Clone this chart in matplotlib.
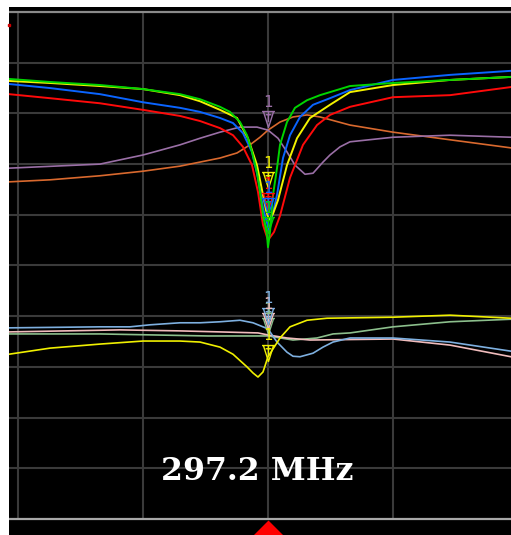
import matplotlib.pyplot as plt
import numpy as np
from matplotlib.path import Path

# x in screen divisions from the centre frequency, y in divisions below the reference line
center_label = "297.2 MHz"

# upper group (reflection traces)
green_x = [-2.072, -1.744, -1.344, -1.0, -0.704, -0.544, -0.384, -0.304, -0.224, -0.168, -0.128,
           -0.088, -0.064, -0.04, -0.008, 0.0, 0.016, 0.04, 0.072, 0.096, 0.152, 0.216, 0.312,
           0.416, 0.496, 0.656, 1.0, 1.456, 1.944]
green_y = [-1.32, -1.38, -1.44, -1.52, -1.62, -1.72, -1.87, -1.97, -2.17, -2.43, -2.76,
           -3.16, -3.55, -4.00, -4.40, -4.64, -4.34, -3.61, -3.08, -2.62, -2.17, -1.89, -1.74,
           -1.64, -1.58, -1.46, -1.40, -1.34, -1.28]

yellow_x = [-2.072, -1.744, -1.344, -1.0, -0.704, -0.544, -0.384, -0.248, -0.16, -0.088, -0.048,
            -0.016, 0.008, 0.04, 0.08, 0.152, 0.232, 0.336, 0.496, 0.656, 1.0, 1.456, 1.944]
yellow_y = [-1.36, -1.40, -1.46, -1.52, -1.64, -1.76, -1.93, -2.09, -2.49, -3.02, -3.51,
            -3.91, -4.10, -3.98, -3.71, -3.02, -2.49, -2.09, -1.83, -1.58, -1.44, -1.34, -1.28]

blue_x = [-2.072, -1.744, -1.344, -1.0, -0.704, -0.544, -0.384, -0.28, -0.2, -0.128, -0.08, -0.04,
          0.008, 0.072, 0.12, 0.176, 0.256, 0.36, 0.496, 0.656, 1.0, 1.456, 1.944]
blue_y = [-1.42, -1.50, -1.62, -1.78, -1.89, -1.97, -2.09, -2.19, -2.39, -2.76, -3.27, -3.87,
          -4.30, -3.61, -2.88, -2.43, -2.07, -1.83, -1.70, -1.54, -1.34, -1.24, -1.16]

red_x = [-2.072, -1.744, -1.344, -1.0, -0.704, -0.544, -0.384, -0.28, -0.2, -0.128, -0.08, -0.04,
         0.0, 0.048, 0.096, 0.176, 0.28, 0.392, 0.496, 0.656, 1.0, 1.456, 1.944]
red_y = [-1.62, -1.70, -1.80, -1.93, -2.05, -2.15, -2.29, -2.43, -2.66, -3.02, -3.55, -4.20,
         -4.50, -4.34, -4.02, -3.27, -2.62, -2.23, -2.03, -1.87, -1.68, -1.64, -1.48]

purple_x = [-2.072, -1.344, -1.0, -0.704, -0.544, -0.384, -0.224, -0.088, 0.0, 0.08, 0.152,
            0.216, 0.296, 0.36, 0.44, 0.496, 0.576, 0.656, 1.0, 1.456, 1.944]
purple_y = [-3.08, -3.00, -2.82, -2.62, -2.49, -2.37, -2.27, -2.27, -2.33, -2.49, -2.76,
            -3.02, -3.20, -3.18, -2.96, -2.82, -2.66, -2.56, -2.47, -2.43, -2.47]

orange_x = [-2.072, -1.744, -1.344, -1.0, -0.704, -0.544, -0.384, -0.248, -0.144, -0.064, 0.0,
            0.096, 0.2, 0.312, 0.416, 0.656, 1.0, 1.456, 1.944]
orange_y = [-3.35, -3.31, -3.23, -3.14, -3.04, -2.96, -2.88, -2.78, -2.62, -2.47, -2.33,
            -2.17, -2.07, -2.03, -2.07, -2.23, -2.37, -2.52, -2.68]

# lower group (transmission traces)
ltblue_x = [-2.072, -1.344, -1.104, -0.944, -0.704, -0.544, -0.384, -0.224, -0.12, 0.0, 0.072,
            0.152, 0.2, 0.256, 0.36, 0.44, 0.52, 0.656, 1.0, 1.456, 1.944]
ltblue_y = [-6.23, -6.21, -6.21, -6.17, -6.13, -6.13, -6.11, -6.08, -6.13, -6.25, -6.51,
            -6.71, -6.79, -6.80, -6.73, -6.61, -6.51, -6.43, -6.43, -6.51, -6.69]

pink_x = [-2.072, -1.184, -0.704, -0.384, -0.08, 0.0, 0.152, 0.336, 1.0, 1.456, 1.944]
pink_y = [-6.31, -6.27, -6.29, -6.31, -6.33, -6.37, -6.43, -6.47, -6.45, -6.57, -6.80]

ltgreen_x = [-2.072, -1.344, -0.48, -0.08, 0.0, 0.2, 0.392, 0.52, 0.656, 1.0, 1.456, 1.944]
ltgreen_y = [-6.35, -6.35, -6.39, -6.39, -6.39, -6.47, -6.43, -6.35, -6.33, -6.21, -6.11, -6.06]

yellow2_x = [-2.072, -1.744, -1.344, -1.0, -0.704, -0.544, -0.384, -0.28, -0.168, -0.12, -0.08,
             -0.04, 0.0, 0.096, 0.176, 0.312, 0.472, 1.0, 1.456, 1.944]
yellow2_y = [-6.75, -6.63, -6.55, -6.49, -6.49, -6.51, -6.61, -6.75, -7.00, -7.12, -7.20,
             -7.10, -6.80, -6.43, -6.21, -6.08, -6.04, -6.02, -5.98, -6.04]

# marker 1 readouts (all at the centre frequency)
marker_x = 0.0
marker_y = {'purple': -2.27, 'red': -3.89, 'blue': -3.98, 'green': -4.36, 'yellow': -3.47,
            'ltgreen': -6.35, 'pink': -6.25, 'ltblue': -6.15, 'yellow2': -6.88}

colors = {'green': '#00d400', 'yellow': '#f2f200', 'blue': '#0a64ff', 'red': '#ff0a0a',
          'purple': '#9a6fa6', 'orange': '#d9692e', 'ltblue': '#7eb0e0', 'pink': '#f0bcbc',
          'ltgreen': '#8cbf8c', 'yellow2': '#f0f000'}

fig = plt.figure(figsize=(5.11, 5.35), dpi=100, facecolor='white')
ax = fig.add_axes([9 / 511, 0, 502 / 511, 528 / 535])
ax.set_facecolor('black')
ax.set_xlim(-2.072, 1.944)
ax.set_ylim(-10.316, 0.099)
for s in ax.spines.values():
    s.set_visible(False)
ax.set_xticks([])
ax.set_yticks([])

# graticule
for gy in range(-9, 0):
    ax.axhline(gy, color='#3a3a3a', lw=1.5, zorder=0)
ax.vlines([-2, -1, 0, 1], -10, 0, color='#3a3a3a', lw=1.5, zorder=0)
ax.axhline(0, color='#8a8a8a', lw=1.6, zorder=1)
ax.axhline(-10, color='#a8a8a8', lw=1.6, zorder=1)

# reference level tick on the left edge
ax.plot([-2.072], [-0.26], marker='s', ms=2, color='#d00000', clip_on=False)

traces = [
    ('ltgreen', ltgreen_x, ltgreen_y, 1.2),
    ('pink', pink_x, pink_y, 1.2),
    ('ltblue', ltblue_x, ltblue_y, 1.2),
    ('yellow2', yellow2_x, yellow2_y, 1.2),
    ('orange', orange_x, orange_y, 1.2),
    ('purple', purple_x, purple_y, 1.2),
    ('red', red_x, red_y, 1.4),
    ('blue', blue_x, blue_y, 1.4),
    ('yellow', yellow_x, yellow_y, 1.4),
    ('green', green_x, green_y, 1.4),
]
for name, xs, ys, lw in traces:
    ax.plot(xs, ys, color=colors[name], lw=lw, solid_joinstyle='round')

# marker symbol: bar on top, hollow triangle pointing at the trace
verts = [(-0.4, 1.0), (0.4, 1.0),
         (-0.32, 1.0), (0.0, 0.0), (0.32, 1.0),
         (0.0, 1.0), (0.0, 0.35),
         (-0.18, 0.8), (0.18, 0.8)]
codes = [Path.MOVETO, Path.LINETO,
         Path.MOVETO, Path.LINETO, Path.LINETO,
         Path.MOVETO, Path.LINETO,
         Path.MOVETO, Path.LINETO]
mk = Path(verts, codes)

# every trace carries marker 1; later entries are drawn on top
order = ['ltgreen', 'pink', 'ltblue', 'yellow2', 'purple', 'green', 'red', 'blue', 'yellow']
for name in order:
    my = marker_y[name]
    ax.plot([marker_x], [my], marker=mk, ms=23, mew=1.0, color=colors[name],
            fillstyle='none', linestyle='none')
    ax.annotate('1', xy=(marker_x, my), xytext=(0, 12.5), textcoords='offset points',
                ha='center', va='bottom', fontsize=11, color=colors[name],
                family='DejaVu Sans Mono')

# active marker indicator under the graticule
tri = Path([(-1, 0), (1, 0), (0, 1), (-1, 0)],
           [Path.MOVETO, Path.LINETO, Path.LINETO, Path.CLOSEPOLY])
ax.plot([marker_x], [-10.316], marker=tri, ms=21.6, color='#ff0000', mew=0, clip_on=False)

ax.text(-0.084, -9.23, center_label, ha='center', va='baseline', color='white',
        fontsize=22.7, fontweight='bold', family='DejaVu Serif')

fig.savefig('out.png', dpi=100, facecolor='white')
